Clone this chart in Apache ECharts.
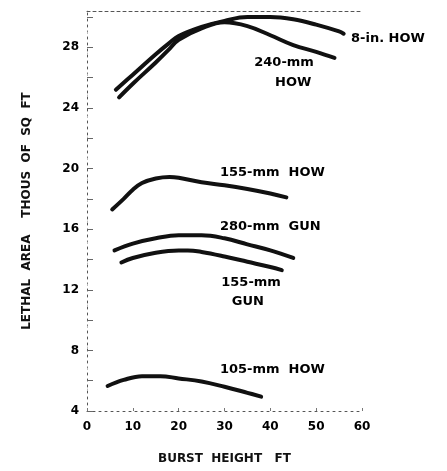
<!DOCTYPE html>
<html>
<head>
<meta charset="utf-8">
<script src="https://cdn.jsdelivr.net/npm/echarts@6/dist/echarts.min.js"></script>
<style>html,body{margin:0;padding:0;background:#fff}#c{width:447px;height:471px}</style>
</head>
<body>
<div id="c"></div>
<script>
// Data (burst height ft -> lethal area, thousands of sq ft)
const how8in_x = [6.3, 10, 15, 18, 20, 25, 30, 35, 40, 45, 50, 55, 56];
const how8in_y = [25.2, 26.2, 27.55, 28.3, 28.75, 29.35, 29.75, 30.0, 30.0, 29.85, 29.5, 29.05, 28.9];
const how240_x = [7, 10, 15, 18, 20, 25, 30, 35, 40, 45, 50, 54];
const how240_y = [24.7, 25.6, 27.0, 27.9, 28.5, 29.25, 29.65, 29.4, 28.8, 28.15, 27.7, 27.3];
const how155_x = [5.5, 8, 10, 12, 15, 18, 20, 25, 30, 35, 40, 43.5];
const how155_y = [17.3, 18.0, 18.6, 19.05, 19.35, 19.45, 19.4, 19.1, 18.9, 18.65, 18.35, 18.1];
const gun280_x = [6, 10, 15, 20, 25, 30, 35, 40, 45];
const gun280_y = [14.6, 15.05, 15.4, 15.6, 15.6, 15.4, 15.0, 14.6, 14.1];
const gun155_x = [7.5, 10, 15, 20, 22, 25, 30, 35, 40, 42.5];
const gun155_y = [13.8, 14.1, 14.45, 14.6, 14.6, 14.5, 14.2, 13.85, 13.5, 13.3];
const how105_x = [4.5, 8, 12, 16, 20, 25, 30, 35, 38];
const how105_y = [5.65, 6.05, 6.3, 6.3, 6.15, 5.95, 5.6, 5.2, 4.95];

const xTicks = [0, 10, 20, 30, 40, 50, 60];
const yTickLabels = [4, 8, 12, 16, 20, 24, 28];

// Curve labels: text, data x, data y, alignment
const labelTexts = ['8-in. HOW', '240-mm', 'HOW', '155-mm  HOW', '280-mm  GUN', '155-mm', 'GUN', '105-mm  HOW'];
const labelX = [57.6, 43, 45, 29, 29, 35.8, 35.1, 29];
const labelY = [28.55, 27.0, 25.7, 19.7, 16.15, 12.5, 11.25, 6.7];
const labelAlign = ['left', 'center', 'center', 'left', 'left', 'center', 'center', 'left'];

function pairs(xs, ys) { return xs.map((x, i) => [x, ys[i]]); }

const seriesDefs = [
  ['8-in. HOW', how8in_x, how8in_y],
  ['240-mm HOW', how240_x, how240_y],
  ['155-mm HOW', how155_x, how155_y],
  ['280-mm GUN', gun280_x, gun280_y],
  ['155-mm GUN', gun155_x, gun155_y],
  ['105-mm HOW', how105_x, how105_y]
];

const chart = echarts.init(document.getElementById('c'), null, {renderer: 'canvas'});
const FONT = 'DejaVu Sans';
const dotted = {show: true, lineStyle: {color: '#555', width: 1, type: [2, 4]}};

const option = {
  backgroundColor: '#fff',
  animation: false,
  grid: {left: 87, right: 85, top: 11, bottom: 60},
  xAxis: [{
    type: 'value', min: 0, max: 60, interval: 10,
    name: 'BURST  HEIGHT   FT', nameLocation: 'middle', nameGap: 42,
    nameTextStyle: {fontFamily: FONT, fontWeight: 'bold', fontSize: 12, color: '#111'},
    axisLine: dotted,
    axisTick: {show: true, inside: true, length: 3, lineStyle: {color: '#777'}},
    axisLabel: {fontFamily: FONT, fontWeight: 'bold', fontSize: 12, color: '#000', margin: 10,
      formatter: v => xTicks.includes(v) ? String(v) : ''},
    splitLine: {show: false}
  }, {
    type: 'value', position: 'top', min: 0, max: 60,
    axisLine: {show: true, lineStyle: {color: '#555', width: 1, type: [3, 3]}},
    axisTick: {show: false}, axisLabel: {show: false}, splitLine: {show: false}
  }],
  yAxis: [{
    type: 'value', min: 4, max: 30.4, interval: 2,
    name: 'LETHAL  AREA    THOUS  OF  SQ  FT', nameLocation: 'middle', nameGap: 54, nameRotate: 90,
    nameTextStyle: {fontFamily: FONT, fontWeight: 'bold', fontSize: 12, color: '#111'},
    axisLine: dotted,
    axisTick: {show: true, inside: true, length: 6, lineStyle: {color: '#666'}},
    axisLabel: {fontFamily: FONT, fontWeight: 'bold', fontSize: 12, color: '#000', margin: 8,
      showMaxLabel: false,
      formatter: v => yTickLabels.includes(v) ? String(v) : ''},
    splitLine: {show: false}
  }, {
    type: 'value', position: 'right', min: 4, max: 30.4,
    axisLine: {show: true, lineStyle: {color: '#bbb', width: 1, type: [1, 20]}},
    axisTick: {show: false}, axisLabel: {show: false}, splitLine: {show: false}
  }],
  series: seriesDefs.map(d => ({
    name: d[0], type: 'line', smooth: 0.4, showSymbol: false, symbol: 'none',
    data: pairs(d[1], d[2]),
    lineStyle: {color: '#111', width: 4, cap: 'round'}
  }))
};
chart.setOption(option);

const gtexts = labelTexts.map((t, i) => {
  const p = chart.convertToPixel({xAxisIndex: 0, yAxisIndex: 0}, [labelX[i], labelY[i]]);
  return {
    type: 'text', x: p[0], y: p[1],
    style: {text: t, fontFamily: FONT, fontWeight: 'bold', fontSize: 13, fill: '#000',
      align: labelAlign[i], verticalAlign: 'middle'}
  };
});
chart.setOption({graphic: gtexts});
</script>
</body>
</html>
